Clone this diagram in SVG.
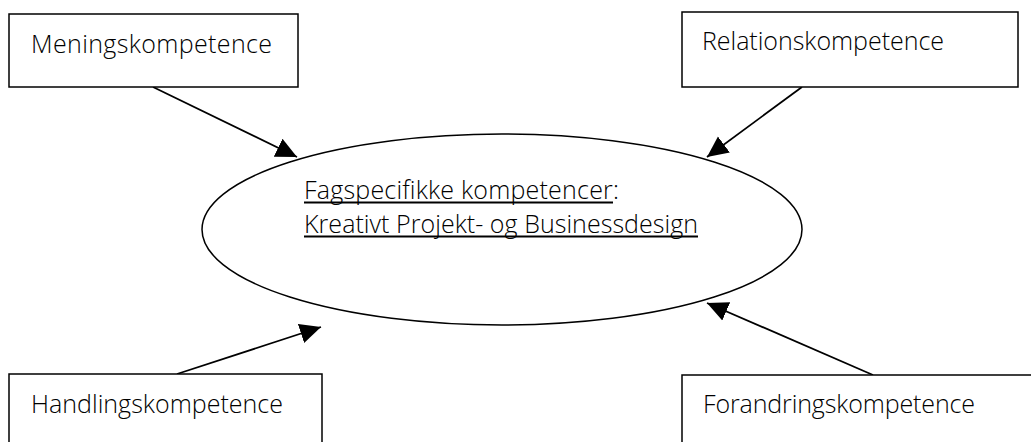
<svg xmlns="http://www.w3.org/2000/svg" width="1031" height="442" viewBox="0 0 1031 442">
<style>
.box{fill:#fff;stroke:#000;stroke-width:1.5}
.lbl{font-family:"Open Sans","Noto Sans","Liberation Sans",sans-serif;font-size:25px;font-weight:300;fill:#000}
.edge{stroke:#000;stroke-width:1.8;fill:none}
.ul{stroke:#000;stroke-width:1.8}
</style>
<defs>
<marker id="ah" markerUnits="userSpaceOnUse" markerWidth="22" markerHeight="22" viewBox="0 0 22 22" refX="21" refY="11" orient="auto">
<path d="M0,1 L21,11 L0,21 Z" fill="#000"/>
</marker>
</defs>
<rect width="1031" height="442" fill="#fff"/>
<g id="connectors">
<line class="edge" x1="153" y1="87" x2="297" y2="157" marker-end="url(#ah)"/>
<line class="edge" x1="802" y1="87" x2="707" y2="157" marker-end="url(#ah)"/>
<line class="edge" x1="177" y1="374" x2="321" y2="327" marker-end="url(#ah)"/>
<line class="edge" x1="873" y1="375" x2="707" y2="303" marker-end="url(#ah)"/>
</g>
<g id="node-mening">
<rect class="box" x="9" y="14" width="289" height="73"/>
<text class="lbl" x="31" y="53" textLength="241" lengthAdjust="spacing">Meningskompetence</text>
</g>
<g id="node-relation">
<rect class="box" x="682" y="12" width="336" height="75"/>
<text class="lbl" x="702" y="49.5" textLength="242" lengthAdjust="spacing">Relationskompetence</text>
</g>
<g id="node-handling">
<rect class="box" x="9" y="374" width="313" height="80"/>
<text class="lbl" x="31" y="413" textLength="252" lengthAdjust="spacing">Handlingskompetence</text>
</g>
<g id="node-forandring">
<rect class="box" x="682" y="375" width="360" height="80"/>
<text class="lbl" x="703" y="413" textLength="272" lengthAdjust="spacing">Forandringskompetence</text>
</g>
<g id="node-center">
<ellipse class="box" cx="502" cy="229.5" rx="300" ry="95.5"/>
<text class="lbl" x="304" y="199" textLength="315" lengthAdjust="spacing">Fagspecifikke kompetencer:</text>
<text class="lbl" x="304" y="233" textLength="394" lengthAdjust="spacing">Kreativt Projekt- og Businessdesign</text>
<line class="ul" x1="304" y1="202.5" x2="613" y2="202.5"/>
<line class="ul" x1="304" y1="236.5" x2="698" y2="236.5"/>
</g>
</svg>
